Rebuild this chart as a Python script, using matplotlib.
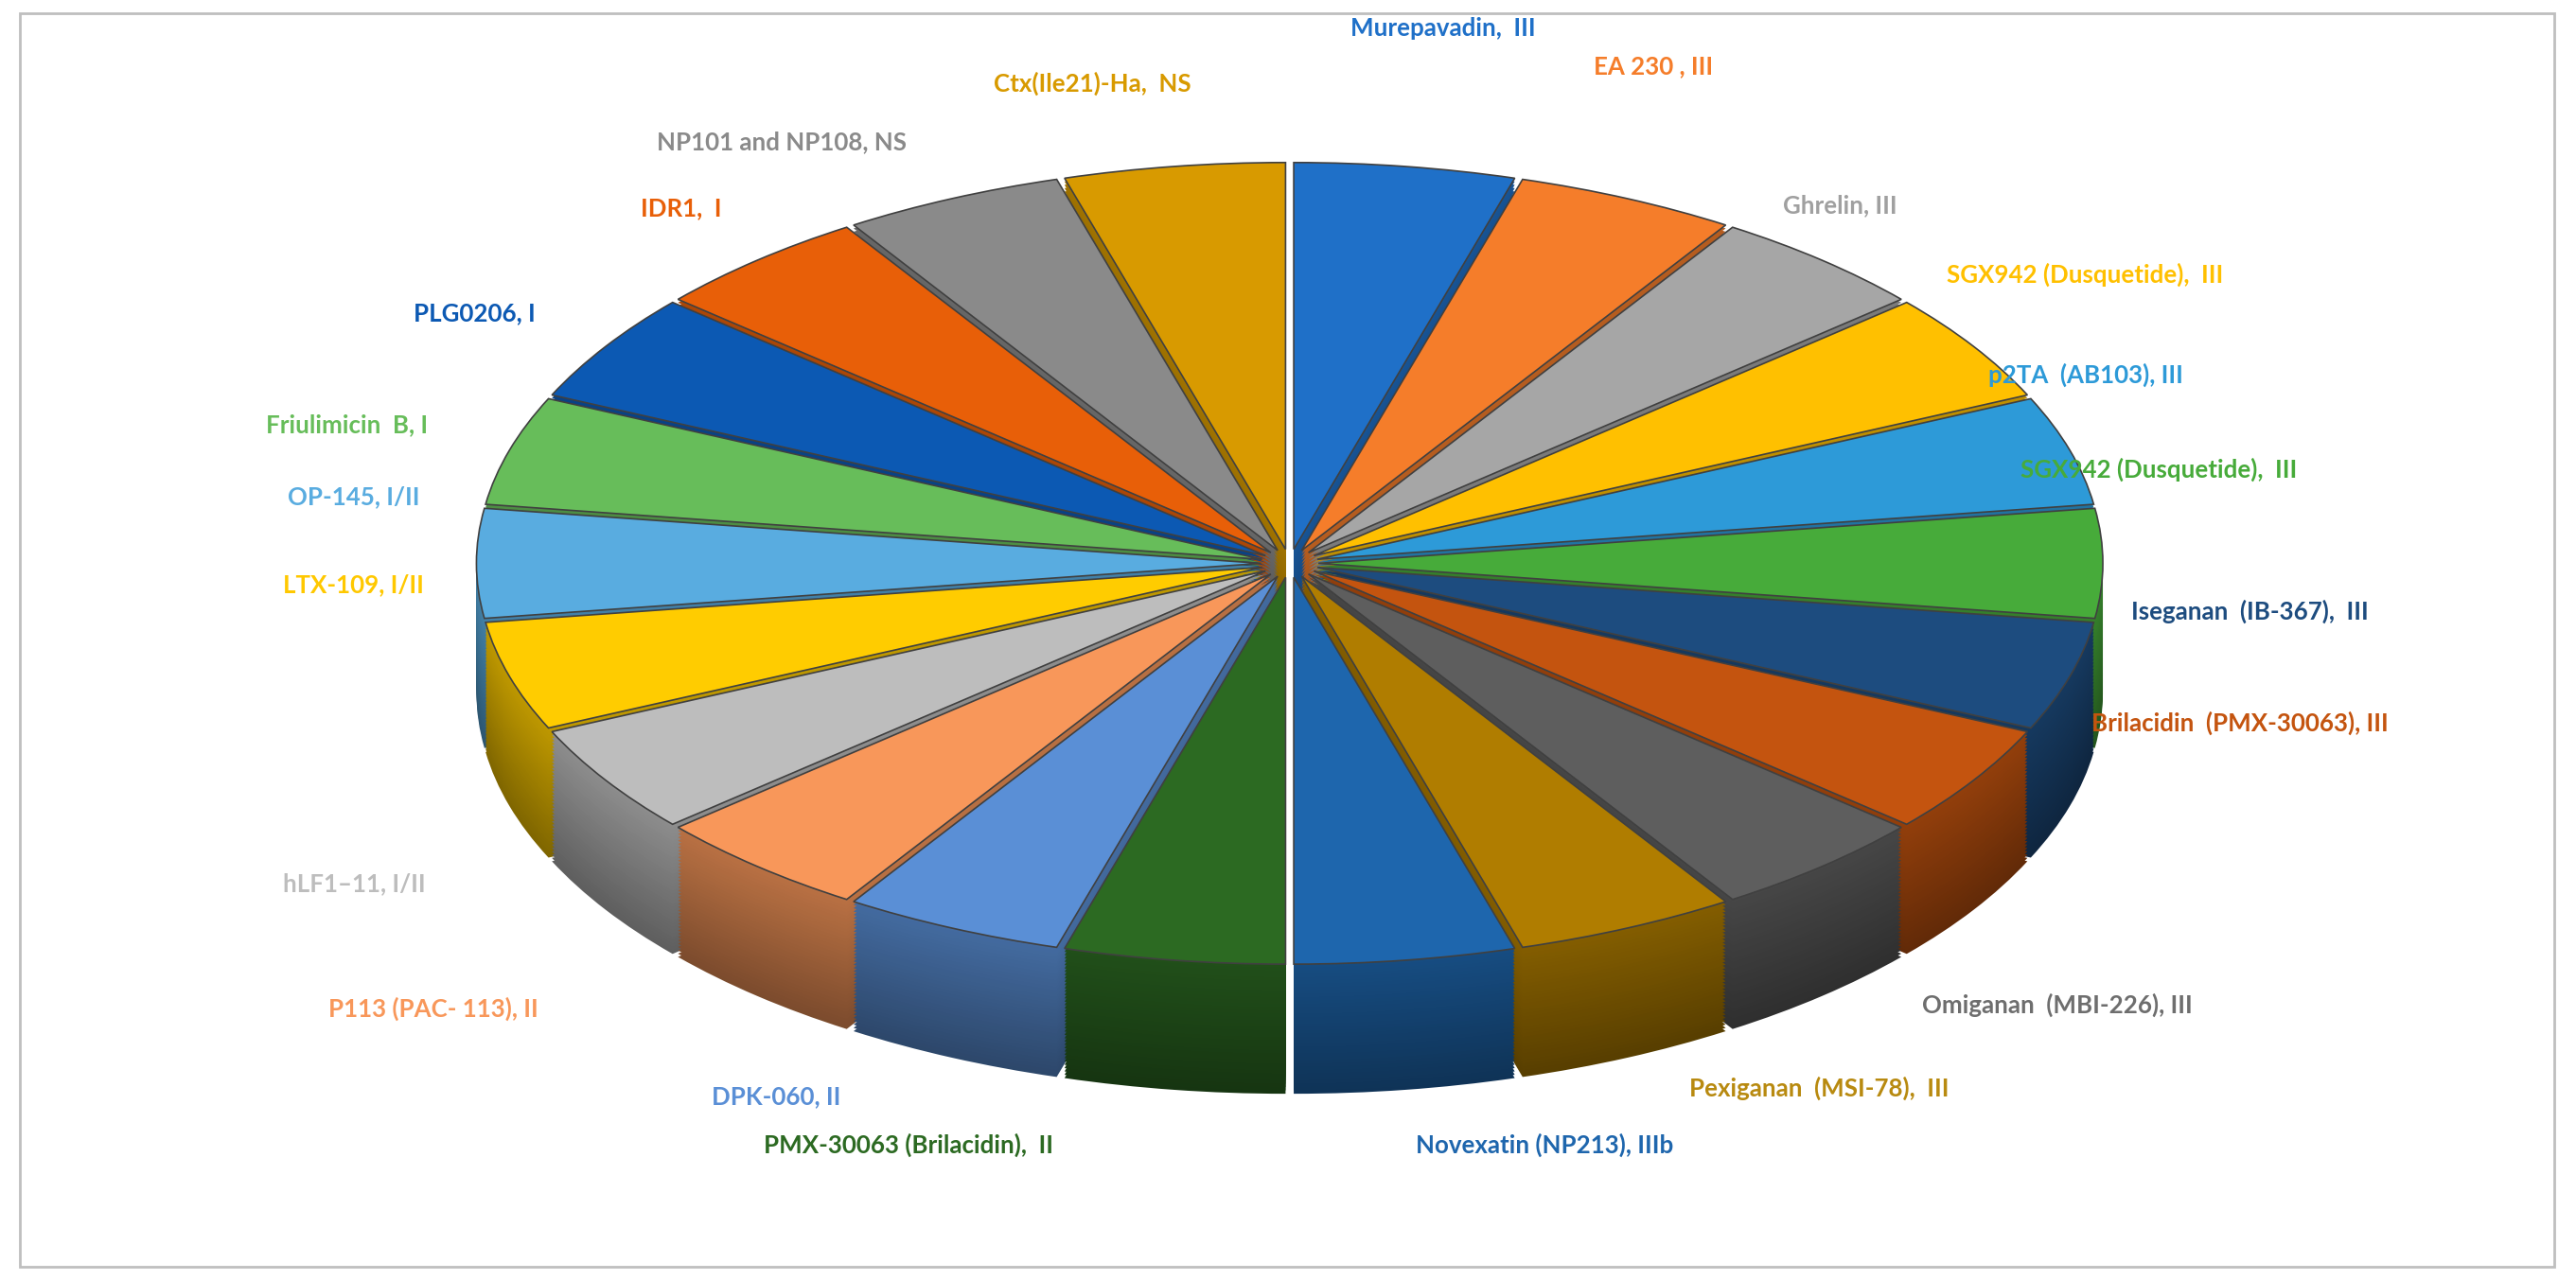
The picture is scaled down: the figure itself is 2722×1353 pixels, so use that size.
import matplotlib
matplotlib.use("Agg")
import matplotlib.pyplot as plt
import matplotlib.colors as mc
import numpy as np
from matplotlib.patches import Rectangle

labels = ["Murepavadin,  III", "EA 230 , III", "Ghrelin, III", "SGX942 (Dusquetide),  III",
          "p2TA  (AB103), III", "SGX942 (Dusquetide),  III", "Iseganan  (IB-367),  III",
          "Brilacidin  (PMX-30063), III", "Omiganan  (MBI-226), III", "Pexiganan  (MSI-78),  III",
          "Novexatin (NP213), IIIb", "PMX-30063 (Brilacidin),  II", "DPK-060, II",
          "P113 (PAC- 113), II", "hLF1\u201311, I/II", "LTX-109, I/II", "OP-145, I/II",
          "Friulimicin  B, I", "PLG0206, I", "IDR1,  I", "NP101 and NP108, NS", "Ctx(Ile21)-Ha,  NS"]
values = [1] * 22
colors = ["#1f70c8", "#f57d2a", "#a6a6a6", "#ffc000", "#2d9ad8", "#47ab3a", "#1d4c7f", "#c4540f",
          "#5e5e5e", "#b07d00", "#1e66ad", "#2c6a22", "#5a8fd6", "#f8975a", "#bdbdbd", "#ffcc00",
          "#59ace0", "#67bd5a", "#0c59b3", "#e85f08", "#8a8a8a", "#d89a00"]
label_colors = ["#1f70c8", "#f57d2a", "#a0a0a0", "#ffc000", "#2d9ad8", "#47ab3a", "#1d4c7f", "#c4540f",
                "#6e6e6e", "#b88a10", "#1e66ad", "#2c6a22", "#5a8fd6", "#f8975a", "#bdbdbd", "#ffc800",
                "#59ace0", "#67bd5a", "#0c59b3", "#e85f08", "#8a8a8a", "#d89a00"]
label_pos = [(822, 17), (970, 40), (1085, 123), (1185, 165), (1210, 225), (1230, 282),
             (1297, 367), (1273, 434), (1170, 603), (1028, 653), (862, 687), (465, 687),
             (433, 658), (200, 605), (172, 530), (172, 351), (175, 298), (162, 255),
             (252, 188), (390, 125), (400, 85), (605, 50)]

W, H = 1568, 768
fig = plt.figure(figsize=(13.61, 6.765), dpi=200)
ax = fig.add_axes([0, 0, 1, 1])
cx, cy, rx, ry = 785, 338, 500, 243
explode = [0.035] * 22
depth = 0.32
layers = np.linspace(depth, 0, 40)
for d in layers:
    dark = [tuple(np.array(mc.to_rgb(c)) * (0.5 + 0.25 * (1 - d / depth))) for c in colors]
    ax.pie(values, colors=dark if d > 0 else colors, startangle=90, counterclock=False,
           explode=explode, center=(0, -d), radius=0.955,
           wedgeprops=dict(linewidth=0.6 if d == 0 else 0, edgecolor='#404040'))
ax.set_aspect('auto')
ax.set_xlim(-cx / rx, (W - cx) / rx)
ax.set_ylim(-(H - cy) / ry, cy / ry)
ax.axis('off')

for lab, col, (px, py) in zip(labels, label_colors, label_pos):
    fig.text(px / W, 1 - py / H, lab, color=col, fontsize=9.3, fontweight='bold',
             family='Lato', ha='left', va='center')

fig.patches.append(Rectangle((12 / W, 1 - 760 / H), 1543 / W, 752 / H, transform=fig.transFigure,
                             fill=False, edgecolor='#bfbfbf', linewidth=1))
fig.savefig("out.png", dpi=200)
